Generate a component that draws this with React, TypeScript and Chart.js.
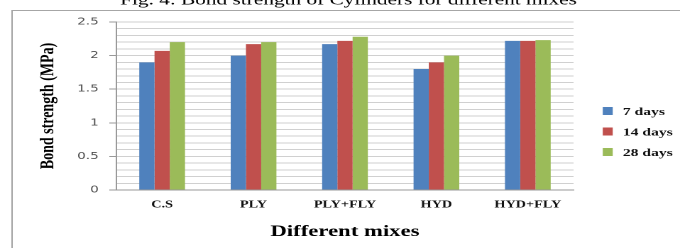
import React, { useEffect, useRef } from 'react';
import { Chart, registerables } from 'chart.js';

Chart.register(...registerables);

// ---- data ----
const categories = ['C.S', 'PLY', 'PLY+FLY', 'HYD', 'HYD+FLY'];
const seriesNames = ['7 days', '14 days', '28 days'];
const days7 = [1.9, 2.0, 2.17, 1.8, 2.22];
const days14 = [2.07, 2.17, 2.22, 1.9, 2.22];
const days28 = [2.2, 2.2, 2.28, 2.0, 2.23];
const yTickLabels = ['0', '0.5', '1', '1.5', '2', '2.5'];
const figureTitle = 'Fig. 4: Bond strength of Cylinders for different mixes';
const xTitle = 'Different mixes';
const yTitle = 'Bond strength (MPa)';

// ---- styles ----
const seriesColors = ['#4F81BD', '#C0504D', '#9BBB59'];
const SCREEN_W = 680;
const H = 248;
const STRETCH = 1.42;
const W = Math.round(SCREEN_W / STRETCH);
const SCALE_X = SCREEN_W / W;
const SERIF = "'Liberation Serif', 'Times New Roman', serif";

const framePlugin = {
  id: 'frame',
  beforeDraw(chart: any) {
    const ctx = chart.ctx;
    ctx.save();
    ctx.fillStyle = '#ffffff';
    ctx.fillRect(0, 0, chart.width, chart.height);
    ctx.strokeStyle = '#a6a6a6';
    ctx.lineWidth = 1;
    ctx.beginPath();
    ctx.moveTo(8.5, H);
    ctx.lineTo(8.5, 10.5);
    ctx.lineTo(chart.width, 10.5);
    ctx.stroke();
    ctx.restore();
  },
  afterDraw(chart: any) {
    const ctx = chart.ctx;
    ctx.save();
    // figure caption (cut at the top)
    ctx.fillStyle = '#000';
    ctx.font = `14px ${SERIF}`;
    const m = ctx.measureText(figureTitle).width;
    const size = (14 * 322) / m;
    ctx.font = `${size}px ${SERIF}`;
    ctx.textAlign = 'center';
    ctx.textBaseline = 'alphabetic';
    ctx.fillText(figureTitle, 245.5, 4.5);
    // legend
    ctx.textAlign = 'left';
    ctx.textBaseline = 'middle';
    ctx.font = `bold 11px ${SERIF}`;
    chart.data.datasets.forEach((ds: any, i: number) => {
      const y = 111 + i * 20.5;
      ctx.fillStyle = ds.backgroundColor;
      ctx.fillRect(424.6, y - 4, 7, 8);
      ctx.fillStyle = '#111';
      ctx.fillText(ds.label, 438.7, y + 1);
    });
    ctx.restore();
  },
};

function isMajor(v: number) {
  return Math.round(v * 10) % 5 === 0;
}

export default function App() {
  const ref = useRef<HTMLCanvasElement | null>(null);

  useEffect(() => {
    const prevMargin = document.body.style.margin;
    document.body.style.margin = '0';
    const canvas = ref.current!;
    const values = [days7, days14, days28];
    const chart = new Chart(canvas, {
      type: 'bar',
      data: {
        labels: categories,
        datasets: seriesNames.map((name, i) => ({
          label: name,
          data: values[i],
          backgroundColor: seriesColors[i],
          borderWidth: 0,
          categoryPercentage: 0.5,
          barPercentage: 1.0,
        })),
      },
      options: {
        responsive: false,
        animation: false,
        devicePixelRatio: 2,
        layout: { padding: { left: 0, right: W - 404, top: 22, bottom: 0 } },
        plugins: {
          legend: { display: false },
          tooltip: { enabled: false },
          title: { display: false },
        },
        scales: {
          x: {
            afterFit: (s: any) => {
              s.height = 58;
            },
            grid: { display: false, drawTicks: false },
            border: { display: true, color: '#999999' },
            ticks: {
              padding: 9,
              color: '#111111',
              font: { family: SERIF, size: 10, weight: 'bold' },
            },
            title: {
              display: true,
              text: xTitle,
              color: '#000000',
              font: { family: SERIF, size: 16, weight: 'bold' },
              padding: { top: 0, bottom: 6.4 },
            },
          },
          y: {
            min: 0,
            max: 2.5,
            afterFit: (s: any) => {
              s.width = 82;
            },
            ticks: {
              stepSize: 0.1,
              autoSkip: false,
              padding: 7.5,
              color: '#505050',
              font: { family: "'DejaVu Sans', sans-serif", size: 9.5 },
              callback: (v: any) => {
                const n = Math.round(Number(v) * 10);
                return n % 5 === 0 ? yTickLabels[n / 5] : '';
              },
            },
            grid: {
              color: '#d0d0d0',
              lineWidth: 1,
              tickLength: 5,
              tickColor: (c: any) =>
                c.tick && isMajor(c.tick.value) ? '#999999' : 'rgba(0,0,0,0)',
            },
            border: { display: true, color: '#999999' },
            title: {
              display: true,
              text: yTitle,
              color: '#000000',
              font: { family: SERIF, size: 14, weight: 'bold' },
              padding: { top: 25.4, bottom: 0 },
            },
          },
        },
      },
      plugins: [framePlugin],
    } as any);
    return () => {
      chart.destroy();
      document.body.style.margin = prevMargin;
    };
  }, []);

  return (
    <div
      style={{
        position: 'fixed',
        left: 0,
        top: 0,
        width: SCREEN_W,
        height: H,
        overflow: 'hidden',
        background: '#fff',
      }}
    >
      <canvas
        ref={ref}
        width={W}
        height={H}
        style={{
          display: 'block',
          width: W + 'px',
          height: H + 'px',
          transform: `scaleX(${SCALE_X})`,
          transformOrigin: '0 0',
        }}
      />
    </div>
  );
}
